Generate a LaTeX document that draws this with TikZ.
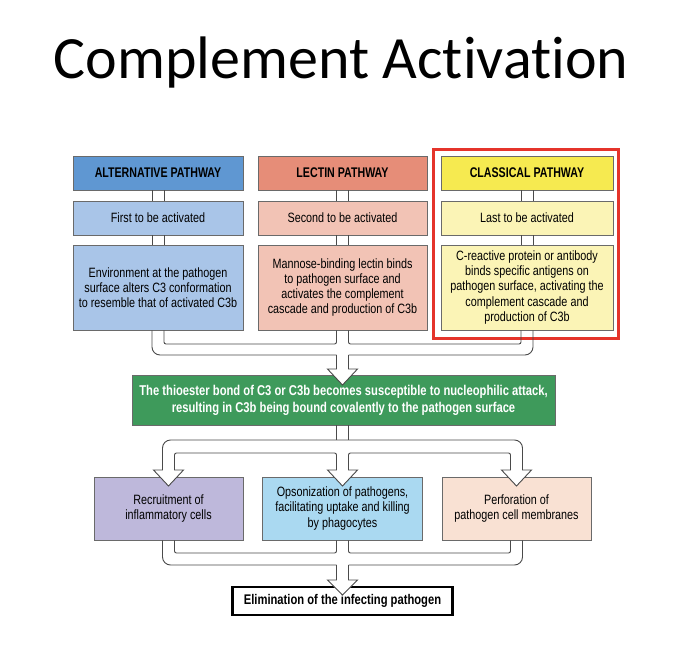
\documentclass[tikz,border=0pt]{standalone}
\usepackage{fontspec}
\setmainfont{Liberation Sans}
\newfontfamily\cf[FakeStretch=0.80]{Liberation Sans}
\newfontfamily\cfh[FakeStretch=0.76]{Liberation Sans}
\newfontfamily\cfg[FakeStretch=0.79]{Liberation Sans}
\newfontfamily\titlefont[Ligatures=NoCommon]{Carlito}
\definecolor{altH}{HTML}{5F97D2}
\definecolor{altL}{HTML}{A9C5E8}
\definecolor{lecH}{HTML}{E68D78}
\definecolor{lecL}{HTML}{F2C3B5}
\definecolor{claH}{HTML}{F6EA50}
\definecolor{claL}{HTML}{FBF4B6}
\definecolor{grn}{HTML}{3E9A5B}
\definecolor{pur}{HTML}{BEB8DB}
\definecolor{sky}{HTML}{AAD9F1}
\definecolor{pch}{HTML}{F9E1D3}
\definecolor{redb}{HTML}{E5342B}
\definecolor{boxline}{HTML}{6A6A6A}
\definecolor{pipecol}{HTML}{4A4A4A}
\begin{document}
\begin{tikzpicture}[x=1pt,y=-1pt,
  box/.style={draw=boxline, line width=0.8pt, inner sep=0pt, align=center,
    font=\cf\fontsize{13.5}{15.2}\selectfont},
  hdr/.style={box, font=\cfh\bfseries\fontsize{14}{15}\selectfont},
  pipe/.style={draw=pipecol, line width=0.9pt},
  headarrow/.style={pipe, fill=white, line join=miter}]
\useasboundingbox (0,0) rectangle (676,668);
\fill[white] (0,0) rectangle (676,668);
% title
\node[font=\titlefont\fontsize{60}{66}\selectfont, inner sep=0pt] (title) at (341,63) {Complement Activation};
% red frame
\draw[redb, line width=3pt] (433,150) rectangle (618,338);
% headers
\node[hdr, fill=altH, minimum width=170pt, minimum height=34pt] (h1) at (158,173) {ALTERNATIVE PATHWAY};
\node[hdr, fill=lecH, minimum width=169pt, minimum height=34pt] (h2) at (342.5,173) {LECTIN PATHWAY};
\node[hdr, fill=claH, minimum width=172pt, minimum height=34pt] (h3) at (527,173) {CLASSICAL PATHWAY};
% second row
\node[box, fill=altL, minimum width=170pt, minimum height=34pt] (s1) at (158,218) {First to be activated};
\node[box, fill=lecL, minimum width=169pt, minimum height=34pt] (s2) at (342.5,218) {Second to be activated};
\node[box, fill=claL, minimum width=172pt, minimum height=34pt] (s3) at (527,218) {Last to be activated};
% third row
\node[box, fill=altL, minimum width=170pt, minimum height=85pt] (t1) at (158,287.5) {Environment at the pathogen\\surface alters C3 conformation\\to resemble that of activated C3b};
\node[box, fill=lecL, minimum width=169pt, minimum height=85pt] (t2) at (342.5,287.5) {Mannose-binding lectin binds\\to pathogen surface and\\activates the complement\\cascade and production of C3b};
\node[box, fill=claL, minimum width=172pt, minimum height=85pt] (t3) at (527,287.5) {C-reactive protein or antibody\\binds specific antigens on\\pathogen surface, activating the\\complement cascade and\\production of C3b};
% pipes header -> second -> third
\foreach \a/\b in {h1/s1,h2/s2,h3/s3,s1/t1,s2/t2,s3/t3}{
  \draw[pipe] ([xshift=-6pt]\a.south) -- ([xshift=-6pt]\b.north);
  \draw[pipe] ([xshift=6pt]\a.south) -- ([xshift=6pt]\b.north);
}
% green box
\node[box, fill=grn, text=white, minimum width=423pt, minimum height=50pt,
  font=\cfg\bfseries\fontsize{14.2}{17}\selectfont] (g) at (343.5,400) {The thioester bond of C3 or C3b becomes susceptible to nucleophilic attack,\\resulting in C3b being bound covalently to the pathogen surface};
% merge of the three pathways
\coordinate (mL) at (336.5,355);
\coordinate (mR) at (348.5,355);
\draw[pipe, rounded corners=8pt] ([xshift=-6pt]t1.south) |- (mL);
\draw[pipe, rounded corners=8pt] ([xshift=6pt]t3.south) |- (mR);
\draw[pipe, rounded corners=2pt] ([xshift=6pt]t1.south) |- ([xshift=-6pt]t2.south |- 0,344) -- ([xshift=-6pt]t2.south);
\draw[pipe, rounded corners=2pt] ([xshift=-6pt]t3.south) |- ([xshift=6pt]t2.south |- 0,344) -- ([xshift=6pt]t2.south);
\draw[headarrow] (mL) -- (336.5,369) -- (327.5,369) -- (342.5,385) -- (357.5,369) -- (348.5,369) -- (mR);
% bottom boxes
\node[box, fill=pur, minimum width=149pt, minimum height=63pt] (b1) at (168.5,508.5) {Recruitment of\\inflammatory cells};
\node[box, fill=sky, minimum width=160pt, minimum height=63pt] (b2) at (342.5,508.5) {Opsonization of pathogens,\\facilitating uptake and killing\\by phagocytes};
\node[box, fill=pch, minimum width=149pt, minimum height=63pt] (b3) at (516.5,508.5) {Perforation of\\pathogen cell membranes};
% split from green box
\draw[pipe, rounded corners=8pt] (162.5,470) |- (522.5,440) -- (522.5,470);
\draw[pipe] ([xshift=-6pt]g.south -| b2.north) -- ([xshift=-6pt]b2.north |- 0,440);
\draw[pipe] ([xshift=6pt]g.south -| b2.north) -- ([xshift=6pt]b2.north |- 0,440);
\draw[pipe, rounded corners=2pt] (174.5,470) |- (336.5,453) -- (336.5,470);
\draw[pipe, rounded corners=2pt] (510.5,470) |- (348.5,453) -- (348.5,470);
\foreach \c/\n in {168.5/b1,342.5/b2,516.5/b3}{
  \draw[headarrow] (\c-6,460) -- (\c-6,470) -- (\c-15,470) -- (\c,486) -- (\c+15,470) -- (\c+6,470) -- (\c+6,460);
}
% final box
\node[draw=black, line width=2.6pt, fill=white, minimum width=220pt, minimum height=28pt, inner sep=0pt,
  font=\cf\bfseries\fontsize{14}{15}\selectfont] (f) at (342.5,601) {Elimination of the infecting pathogen};
% merge of the three effector outcomes
\coordinate (nL) at (336.5,565);
\coordinate (nR) at (348.5,565);
\draw[pipe, rounded corners=8pt] ([xshift=-6pt]b1.south) |- (nL);
\draw[pipe, rounded corners=8pt] ([xshift=6pt]b3.south) |- (nR);
\draw[pipe, rounded corners=2pt] ([xshift=6pt]b1.south) |- ([xshift=-6pt]b2.south |- 0,553) -- ([xshift=-6pt]b2.south);
\draw[pipe, rounded corners=2pt] ([xshift=-6pt]b3.south) |- ([xshift=6pt]b2.south |- 0,553) -- ([xshift=6pt]b2.south);
\draw[headarrow] (nL) -- (336.5,580) -- (327.5,580) -- (342.5,595) -- (357.5,580) -- (348.5,580) -- (nR);
\end{tikzpicture}
\end{document}
